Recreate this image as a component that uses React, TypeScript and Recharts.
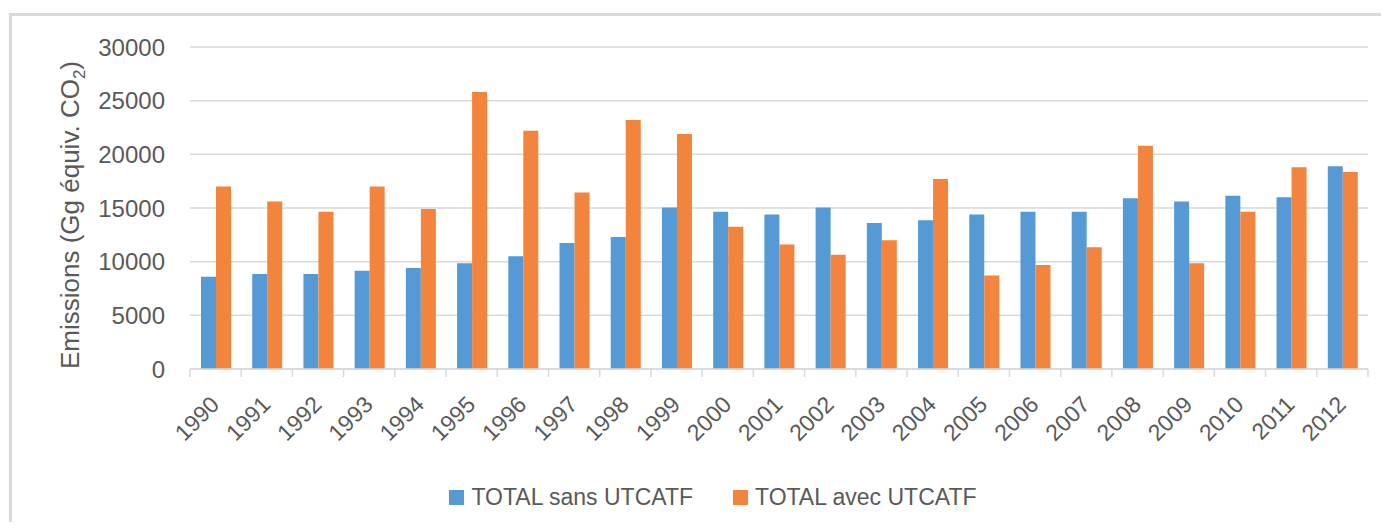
import { BarChart, Bar, XAxis, YAxis, CartesianGrid, Legend } from 'recharts'

const years = [
  '1990', '1991', '1992', '1993', '1994', '1995', '1996', '1997', '1998', '1999', '2000', '2001',
  '2002', '2003', '2004', '2005', '2006', '2007', '2008', '2009', '2010', '2011', '2012',
]
const sansUtcatf = [
  8600, 8850, 8850, 9150, 9400, 9850, 10500, 11750, 12300, 15050, 14650, 14400,
  15050, 13600, 13850, 14400, 14650, 14650, 15900, 15600, 16150, 16000, 18900,
]
const avecUtcatf = [
  17000, 15600, 14650, 17000, 14900, 25800, 22200, 16450, 23200, 21900, 13250, 11600,
  10650, 12000, 17700, 8700, 9700, 11350, 20800, 9850, 14650, 18800, 18350,
]
const yTicks = [0, 5000, 10000, 15000, 20000, 25000, 30000]
const seriesOrder = ['sans', 'avec']

const data = years.map((year, i) => ({ year, sans: sansUtcatf[i], avec: avecUtcatf[i] }))

const W = 1389
const H = 530
const MARGIN = { top: 47, right: 21, left: 40, bottom: 13 }
const Y_AXIS_W = 150
const BAND = (W - MARGIN.left - MARGIN.right - Y_AXIS_W) / years.length

const FONT = '"Liberation Sans", Arial, sans-serif'
const TEXT = '#595959'
const GRID = '#d9d9d9'
const BLUE = '#559ad4'
const ORANGE = '#f2843d'

// Excel-style x ticks: marks sit between categories, labels turned 45°
function YearTick(props: any) {
  const { x, y, payload, index } = props
  const half = BAND / 2
  const tx = x + 5
  const ty = y + 37
  return (
    <g>
      <line x1={x - half} y1={y} x2={x - half} y2={y + 8} stroke={GRID} strokeWidth={1.5} />
      {index === years.length - 1 && (
        <line x1={x + half} y1={y} x2={x + half} y2={y + 8} stroke={GRID} strokeWidth={1.5} />
      )}
      <text
        x={tx}
        y={ty}
        transform={`rotate(-45, ${tx}, ${ty})`}
        textAnchor="end"
        fill={TEXT}
        fontSize={23}
        fontFamily={FONT}
      >
        {payload.value}
      </text>
    </g>
  )
}

function YLabel(props: any) {
  const vb = props.viewBox || { x: MARGIN.left, y: MARGIN.top, height: 322 }
  const cx = vb.x + 39
  const cy = vb.y + vb.height / 2 + 7
  return (
    <text
      x={cx}
      y={cy}
      transform={`rotate(-90, ${cx}, ${cy})`}
      textAnchor="middle"
      fill={TEXT}
      fontSize={26}
      fontFamily={FONT}
    >
      Emissions (Gg équiv. CO
      <tspan dy={6} fontSize={17}>2</tspan>
      <tspan dy={-6}>)</tspan>
    </text>
  )
}

function LegendBox({ payload }: any) {
  const items = [...(payload || [])].sort(
    (a: any, b: any) => seriesOrder.indexOf(a.dataKey) - seriesOrder.indexOf(b.dataKey),
  )
  return (
    <div style={{ display: 'flex', justifyContent: 'center', alignItems: 'center', height: 40, gap: 40 }}>
      {items.map((item: any) => (
        <div key={item.value} style={{ display: 'flex', alignItems: 'center', gap: 7 }}>
          <span style={{ width: 15, height: 15, background: item.color, display: 'inline-block' }} />
          <span style={{ fontSize: 23, color: TEXT, fontFamily: FONT, lineHeight: '26px' }}>{item.value}</span>
        </div>
      ))}
    </div>
  )
}

export default function App() {
  return (
    <div
      style={{
        margin: -8,
        width: W,
        height: H,
        position: 'relative',
        overflow: 'hidden',
        background: '#fcfcfc',
        fontFamily: FONT,
      }}
    >
      <div
        style={{
          position: 'absolute',
          left: 9,
          top: 13,
          width: 1400,
          height: 540,
          border: `3px solid ${GRID}`,
          background: '#fff',
        }}
      />
      <div style={{ position: 'absolute', left: 0, top: 0 }}>
        <BarChart width={W} height={H} data={data} margin={MARGIN} barGap={0} barSize={15}>
          <CartesianGrid vertical={false} stroke={GRID} strokeWidth={1.5} />
          <XAxis
            dataKey="year"
            interval={0}
            height={108}
            tickSize={0}
            tickMargin={0}
            tickLine={false}
            axisLine={{ stroke: GRID, strokeWidth: 1.5 }}
            tick={<YearTick />}
          />
          <YAxis
            width={Y_AXIS_W}
            domain={[0, 30000]}
            ticks={yTicks}
            interval={0}
            axisLine={false}
            tickLine={false}
            tickMargin={19}
            tick={{ fill: TEXT, fontSize: 24, fontFamily: FONT }}
            label={<YLabel />}
          />
          <Legend
            verticalAlign="bottom"
            content={<LegendBox />}
            wrapperStyle={{ left: 180, width: 1066 }}
          />
          <Bar dataKey="sans" name="TOTAL sans UTCATF" fill={BLUE} isAnimationActive={false} />
          <Bar dataKey="avec" name="TOTAL avec UTCATF" fill={ORANGE} isAnimationActive={false} />
        </BarChart>
      </div>
    </div>
  )
}
